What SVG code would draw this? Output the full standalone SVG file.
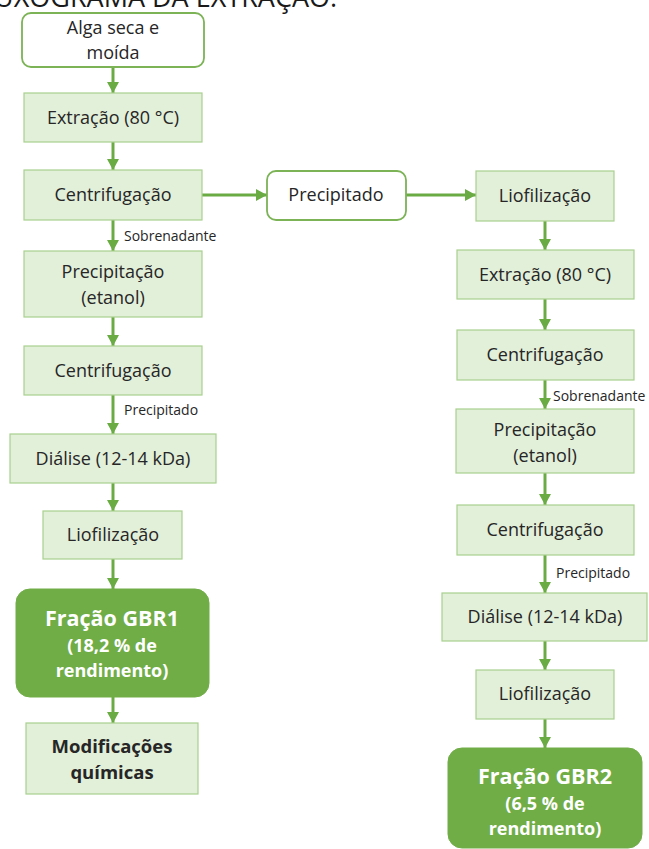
<svg xmlns="http://www.w3.org/2000/svg" width="649" height="849" viewBox="0 0 649 849">
<style>
text{font-family:"Open Sans","Noto Sans","Liberation Sans",sans-serif;fill:#262626}
.t{font-size:18px;text-anchor:middle}
.lbl{font-size:14px}
.box{fill:#e2efd9;stroke:#a9d18e;stroke-width:1.2}
.rnd{fill:#ffffff;stroke:#7cb356;stroke-width:1.8}
.dark{fill:#70ad47;stroke:#70ad47}
.w{fill:#ffffff;font-weight:bold;text-anchor:middle}
.b{font-weight:bold;font-size:18.5px;text-anchor:middle}
.c{stroke:#6aab44;stroke-width:3;fill:none;marker-end:url(#ah)}
.title{font-size:27px;fill:#1a1a1a}
</style>
<defs>
<marker id="ah" markerUnits="userSpaceOnUse" markerWidth="12" markerHeight="12" refX="11" refY="6" orient="auto">
<path d="M0,0 L11,6 L0,12 z" fill="#6aab44"/>
</marker>
</defs>
<rect width="649" height="849" fill="#ffffff"/>
<text class="title" x="-6" y="7">UXOGRAMA DA EXTRAÇÃO:</text>

<g id="connectors">
<line class="c" x1="113" y1="67" x2="113" y2="93"/>
<line class="c" x1="113" y1="142" x2="113" y2="170"/>
<line class="c" x1="113" y1="220" x2="113" y2="251"/>
<line class="c" x1="113" y1="317" x2="113" y2="346"/>
<line class="c" x1="113" y1="395" x2="113" y2="434"/>
<line class="c" x1="113" y1="483" x2="113" y2="511"/>
<line class="c" x1="113" y1="559" x2="113" y2="589"/>
<line class="c" x1="113" y1="697" x2="113" y2="723"/>
<line class="c" x1="202" y1="195" x2="267" y2="195"/>
<line class="c" x1="406" y1="195" x2="476" y2="195"/>
<line class="c" x1="545" y1="221" x2="545" y2="250"/>
<line class="c" x1="545" y1="299" x2="545" y2="330"/>
<line class="c" x1="545" y1="380" x2="545" y2="409"/>
<line class="c" x1="545" y1="473" x2="545" y2="505"/>
<line class="c" x1="545" y1="555" x2="545" y2="593"/>
<line class="c" x1="545" y1="641" x2="545" y2="670"/>
<line class="c" x1="545" y1="719" x2="545" y2="748"/>
<text class="lbl" x="124" y="241">Sobrenadante</text>
<text class="lbl" x="124" y="415">Precipitado</text>
<text class="lbl" x="553" y="401">Sobrenadante</text>
<text class="lbl" x="556" y="578">Precipitado</text>
</g>

<g id="n1"><rect class="rnd" x="22" y="13" width="182" height="54" rx="9"/>
<text class="t" x="113" y="34">Alga seca e</text><text class="t" x="113" y="59">moída</text></g>
<g id="n2"><rect class="box" x="24" y="93" width="178" height="49"/>
<text class="t" x="113" y="124">Extração (80 °C)</text></g>
<g id="n3"><rect class="box" x="24" y="170" width="178" height="50"/>
<text class="t" x="113" y="201">Centrifugação</text></g>
<g id="n4"><rect class="rnd" x="267" y="171" width="139" height="49" rx="9"/>
<text class="t" x="336" y="201">Precipitado</text></g>
<g id="n5"><rect class="box" x="24" y="251" width="178" height="66"/>
<text class="t" x="113" y="278">Precipitação</text><text class="t" x="113" y="304">(etanol)</text></g>
<g id="n6"><rect class="box" x="24" y="346" width="178" height="49"/>
<text class="t" x="113" y="377">Centrifugação</text></g>
<g id="n7"><rect class="box" x="10" y="434" width="206" height="49"/>
<text class="t" x="113" y="465">Diálise (12-14 kDa)</text></g>
<g id="n8"><rect class="box" x="43" y="511" width="139" height="48"/>
<text class="t" x="113" y="541">Liofilização</text></g>
<g id="n9"><rect class="dark" x="16" y="589" width="193" height="108" rx="14"/>
<text class="w" x="112" y="626" font-size="21.5">Fração GBR1</text>
<text class="w" x="112" y="652" font-size="18">(18,2 % de</text>
<text class="w" x="112" y="677" font-size="18">rendimento)</text></g>
<g id="n10"><rect class="box" x="26" y="723" width="172" height="71"/>
<text class="b" x="112" y="753">Modificações</text><text class="b" x="112" y="779">químicas</text></g>

<g id="r1"><rect class="box" x="476" y="171" width="138" height="50"/>
<text class="t" x="545" y="202">Liofilização</text></g>
<g id="r2"><rect class="box" x="457" y="250" width="177" height="49"/>
<text class="t" x="545" y="281">Extração (80 °C)</text></g>
<g id="r3"><rect class="box" x="457" y="330" width="177" height="50"/>
<text class="t" x="545" y="361">Centrifugação</text></g>
<g id="r4"><rect class="box" x="456" y="409" width="178" height="64"/>
<text class="t" x="545" y="436">Precipitação</text><text class="t" x="545" y="462">(etanol)</text></g>
<g id="r5"><rect class="box" x="457" y="505" width="177" height="50"/>
<text class="t" x="545" y="536">Centrifugação</text></g>
<g id="r6"><rect class="box" x="442" y="593" width="205" height="48"/>
<text class="t" x="545" y="623">Diálise (12-14 kDa)</text></g>
<g id="r7"><rect class="box" x="476" y="670" width="138" height="49"/>
<text class="t" x="545" y="700">Liofilização</text></g>
<g id="r8"><rect class="dark" x="448" y="748" width="194" height="100" rx="14"/>
<text class="w" x="545" y="784" font-size="21.5">Fração GBR2</text>
<text class="w" x="545" y="810" font-size="18">(6,5 % de</text>
<text class="w" x="545" y="835" font-size="18">rendimento)</text></g>
</svg>
